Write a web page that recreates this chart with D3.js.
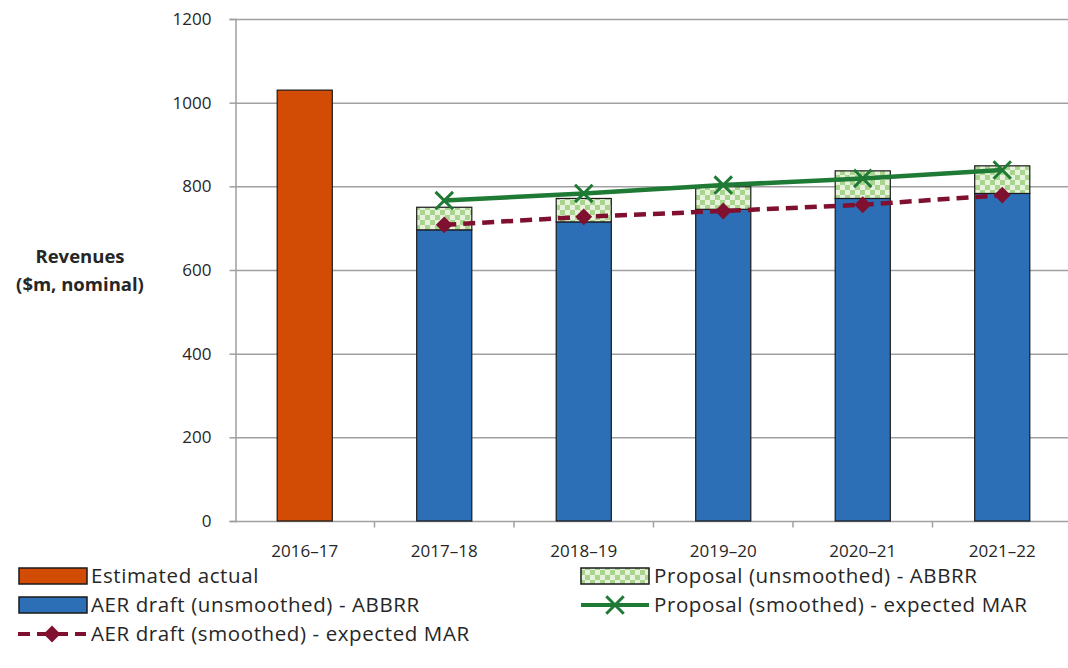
<!DOCTYPE html>
<html>
<head>
<meta charset="utf-8">
<script src="https://cdn.jsdelivr.net/npm/d3@7"></script>
<style>
  body { margin: 0; background: #fff; }
  text { font-family: "Open Sans", Lato, sans-serif; fill: #262626; }
</style>
</head>
<body>
<div id="chart"></div>
<script>
// chart values
var years = ['2016–17', '2017–18', '2018–19', '2019–20', '2020–21', '2021–22'];
var estimatedActual = [1030, null, null, null, null, null];
var aerDraftAbbrr = [null, 696, 715, 745, 771, 783];
var proposalAbbrr = [null, 750, 771, 799, 837, 849];   // top of the checked part
var proposalMar = [null, 766, 783, 803, 819, 839];
var aerDraftMar = [null, 708, 727, 741, 756, 779];
var yTicks = [0, 200, 400, 600, 800, 1000, 1200];

var width = 1068,
    height = 668;

var svg = d3.select('#chart').append('svg')
  .attr('width', width)
  .attr('height', height);

// checked fill for the proposal part
var defs = svg.append('defs');
var pat = defs.append('pattern')
  .attr('id', 'checks')
  .attr('patternUnits', 'userSpaceOnUse')
  .attr('width', 10)
  .attr('height', 10);
pat.append('rect').attr('width', 10).attr('height', 10).attr('fill', '#e6f2dc');
pat.append('rect').attr('width', 5).attr('height', 5).attr('fill', '#a9d48e');
pat.append('rect').attr('x', 5).attr('y', 5).attr('width', 5).attr('height', 5).attr('fill', '#a9d48e');

var x = d3.scaleBand()
  .domain(years)
  .range([235, 1072])
  .paddingInner(0.605)
  .paddingOuter(0.3025);

var y = d3.scaleLinear()
  .domain([0, 1200])
  .range([521, 19]);

// gridlines
svg.append('g')
  .selectAll('line')
  .data(yTicks.slice(1))
  .enter()
  .append('line')
  .attr('x1', 235)
  .attr('x2', width)
  .attr('y1', d => y(d) + 0.5)
  .attr('y2', d => y(d) + 0.5)
  .attr('stroke', '#a0a0a0')
  .attr('stroke-width', 1.5);

// y axis
var yAxis = d3.axisLeft(y)
  .tickValues(yTicks)
  .tickFormat(d3.format('d'))
  .tickSize(6)
  .tickPadding(18);
var yAxisGroup = svg.append('g')
  .attr('transform', 'translate(235.5, 0)')
  .call(yAxis);
yAxisGroup.select('.domain').attr('stroke', '#a0a0a0').attr('stroke-width', 1.5);
yAxisGroup.selectAll('.tick line').attr('stroke', '#a0a0a0').attr('stroke-width', 1.5);
yAxisGroup.selectAll('.tick text')
  .style('font-size', '17px')
  .style('font-family', '"Open Sans", sans-serif')
  .attr('fill', '#262626');

// x axis: ticks sit between the categories
var xAxisGroup = svg.append('g')
  .attr('transform', 'translate(0, ' + (y(0) + 0.5) + ')');
xAxisGroup.append('line')
  .attr('x1', 235)
  .attr('x2', width)
  .attr('stroke', '#a0a0a0')
  .attr('stroke-width', 1.5);
xAxisGroup.selectAll('.xtick')
  .data(years.slice(1))
  .enter()
  .append('line')
  .attr('x1', d => x(d) - x.step() * x.paddingInner() / 2)
  .attr('x2', d => x(d) - x.step() * x.paddingInner() / 2)
  .attr('y1', 0)
  .attr('y2', 6)
  .attr('stroke', '#a0a0a0')
  .attr('stroke-width', 1.5);
xAxisGroup.selectAll('.xlabel')
  .data(years)
  .enter()
  .append('text')
  .attr('x', d => x(d) + x.bandwidth() / 2)
  .attr('y', 35)
  .attr('text-anchor', 'middle')
  .style('font-size', '17px')
  .text(d => d);

// y axis title
var yTitle = svg.append('text')
  .attr('text-anchor', 'middle')
  .style('font-size', '18.5px')
  .style('font-weight', 'bold');
yTitle.append('tspan').attr('x', 80).attr('y', 263).text('Revenues');
yTitle.append('tspan').attr('x', 80).attr('y', 291).text('($m, nominal)');

// bars
svg.append('g').selectAll('rect')
  .data(years.filter((d, i) => estimatedActual[i] != null))
  .enter()
  .append('rect')
  .attr('x', d => x(d))
  .attr('width', x.bandwidth())
  .attr('y', d => y(estimatedActual[years.indexOf(d)]))
  .attr('height', d => y(0) - y(estimatedActual[years.indexOf(d)]))
  .attr('fill', '#d24c06')
  .attr('stroke', '#1a1a1a')
  .attr('stroke-width', 1.2);

var stackIdx = years.map((d, i) => i).filter(i => aerDraftAbbrr[i] != null);

svg.append('g').selectAll('rect')
  .data(stackIdx)
  .enter()
  .append('rect')
  .attr('x', i => x(years[i]))
  .attr('width', x.bandwidth())
  .attr('y', i => y(aerDraftAbbrr[i]))
  .attr('height', i => y(0) - y(aerDraftAbbrr[i]))
  .attr('fill', '#2d6fb6')
  .attr('stroke', '#1a1a1a')
  .attr('stroke-width', 1.2);

svg.append('g').selectAll('rect')
  .data(stackIdx)
  .enter()
  .append('rect')
  .attr('x', i => x(years[i]))
  .attr('width', x.bandwidth())
  .attr('y', i => y(proposalAbbrr[i]))
  .attr('height', i => y(aerDraftAbbrr[i]) - y(proposalAbbrr[i]))
  .attr('fill', 'url(#checks)')
  .attr('stroke', '#1a1a1a')
  .attr('stroke-width', 1.2);

// lines
var cx = i => x(years[i]) + x.bandwidth() / 2;

var line = d3.line()
  .defined(d => d[1] != null)
  .x(d => cx(d[0]))
  .y(d => y(d[1]));

svg.append('path')
  .datum(proposalMar.map((v, i) => [i, v]))
  .attr('d', line)
  .attr('fill', 'none')
  .attr('stroke', '#1f7a35')
  .attr('stroke-width', 4.5);

svg.append('path')
  .datum(aerDraftMar.map((v, i) => [i, v]))
  .attr('d', line)
  .attr('fill', 'none')
  .attr('stroke', '#80102f')
  .attr('stroke-width', 4.5)
  .attr('stroke-dasharray', '12,7');

var diamond = d3.symbol().type(d3.symbolDiamond2).size(180);
var cross = d3.symbol().type(d3.symbolTimes).size(200);

svg.append('g').selectAll('path')
  .data(stackIdx)
  .enter()
  .append('path')
  .attr('d', cross)
  .attr('transform', i => 'translate(' + cx(i) + ',' + y(proposalMar[i]) + ')')
  .attr('fill', 'none')
  .attr('stroke', '#1f7a35')
  .attr('stroke-width', 3);

svg.append('g').selectAll('path')
  .data(stackIdx)
  .enter()
  .append('path')
  .attr('d', diamond)
  .attr('transform', i => 'translate(' + cx(i) + ',' + y(aerDraftMar[i]) + ')')
  .attr('fill', '#80102f');

// legend
var legend = svg.append('g');
var legendFont = '20.5px';

function swatch(lx, ly, fill) {
  legend.append('rect')
    .attr('x', lx).attr('y', ly - 8)
    .attr('width', 68).attr('height', 16)
    .attr('fill', fill)
    .attr('stroke', '#1a1a1a')
    .attr('stroke-width', 1.5);
}
function lineKey(lx, ly, color, dash, marker) {
  legend.append('line')
    .attr('x1', lx).attr('x2', lx + 68)
    .attr('y1', ly).attr('y2', ly)
    .attr('stroke', color)
    .attr('stroke-width', 4)
    .attr('stroke-dasharray', dash);
  legend.append('path')
    .attr('d', marker)
    .attr('transform', 'translate(' + (lx + 34) + ',' + ly + ')')
    .attr('fill', marker === diamond ? color : 'none')
    .attr('stroke', marker === diamond ? 'none' : color)
    .attr('stroke-width', 3);
}
function label(lx, ly, txt) {
  legend.append('text')
    .attr('x', lx).attr('y', ly)
    .attr('dy', '0.35em')
    .style('font-size', legendFont)
    .style('letter-spacing', '0.6px')
    .text(txt);
}

swatch(19, 576, '#d24c06');
label(91, 576, 'Estimated actual');
swatch(19, 605, '#2d6fb6');
label(91, 605, 'AER draft (unsmoothed) - ABBRR');
lineKey(18, 634, '#80102f', '12,7', diamond);
label(91, 634, 'AER draft (smoothed) - expected MAR');

swatch(581, 576, 'url(#checks)');
label(654, 576, 'Proposal (unsmoothed) - ABBRR');
lineKey(581, 605, '#1f7a35', null, cross);
label(654, 605, 'Proposal (smoothed) - expected MAR');
</script>
</body>
</html>
